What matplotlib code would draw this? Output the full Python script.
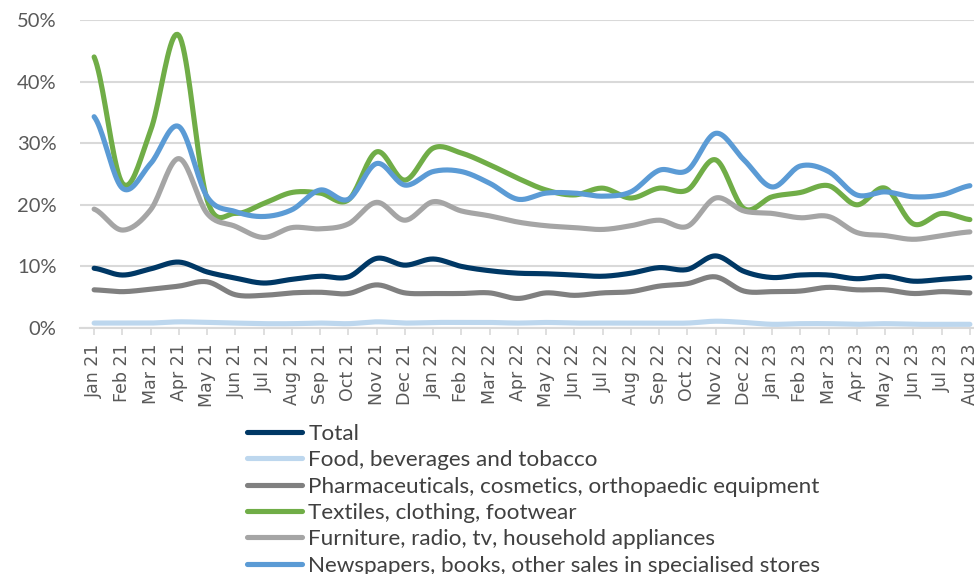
import numpy as np
import matplotlib
matplotlib.use("Agg")
import matplotlib.pyplot as plt
from matplotlib.ticker import PercentFormatter

months = ["Jan 21", "Feb 21", "Mar 21", "Apr 21", "May 21", "Jun 21", "Jul 21", "Aug 21",
          "Sep 21", "Oct 21", "Nov 21", "Dec 21", "Jan 22", "Feb 22", "Mar 22", "Apr 22",
          "May 22", "Jun 22", "Jul 22", "Aug 22", "Sep 22", "Oct 22", "Nov 22", "Dec 22",
          "Jan 23", "Feb 23", "Mar 23", "Apr 23", "May 23", "Jun 23", "Jul 23", "Aug 23"]

# valores em %
total = [9.7, 8.6, 9.6, 10.7, 9.1, 8.1, 7.3, 7.9, 8.4, 8.3, 11.3, 10.2, 11.2, 10.0, 9.3, 8.9,
         8.8, 8.6, 8.4, 8.9, 9.8, 9.5, 11.7, 9.2, 8.2, 8.6, 8.6, 8.0, 8.4, 7.6, 7.9, 8.2]
food = [0.8, 0.8, 0.8, 1.0, 0.9, 0.8, 0.7, 0.7, 0.8, 0.7, 1.0, 0.8, 0.9, 0.9, 0.9, 0.8,
        0.9, 0.8, 0.8, 0.8, 0.8, 0.8, 1.1, 0.9, 0.6, 0.7, 0.7, 0.6, 0.7, 0.6, 0.6, 0.6]
pharma = [6.2, 5.9, 6.3, 6.8, 7.5, 5.4, 5.3, 5.7, 5.8, 5.6, 7.0, 5.7, 5.6, 5.6, 5.7, 4.8,
          5.7, 5.3, 5.7, 5.9, 6.8, 7.2, 8.3, 6.0, 5.9, 6.0, 6.6, 6.2, 6.2, 5.6, 5.9, 5.7]
textiles = [44.0, 23.5, 32.1, 47.5, 20.8, 18.6, 20.2, 22.0, 21.9, 20.8, 28.6, 24.0, 29.2, 28.4,
            26.5, 24.3, 22.4, 21.6, 22.7, 21.1, 22.7, 22.4, 27.3, 19.4, 21.3, 22.0, 23.1, 20.0,
            22.7, 16.9, 18.6, 17.6]
furniture = [19.3, 15.9, 19.2, 27.5, 18.6, 16.5, 14.7, 16.3, 16.1, 16.9, 20.4, 17.5, 20.5, 19.0,
             18.2, 17.2, 16.6, 16.3, 16.0, 16.6, 17.5, 16.5, 21.1, 19.0, 18.6, 17.9, 18.1, 15.5,
             15.0, 14.4, 15.0, 15.6]
newspapers = [34.3, 22.7, 26.7, 32.7, 21.3, 18.9, 18.1, 19.2, 22.4, 20.9, 26.7, 23.2, 25.4, 25.4,
              23.5, 20.9, 21.9, 21.9, 21.4, 22.1, 25.6, 25.6, 31.6, 27.3, 22.9, 26.3, 25.4, 21.6,
              22.1, 21.3, 21.6, 23.1]

series = [
    ("Total", total, "#003865"),
    ("Food, beverages and tobacco", food, "#BDD7EE"),
    ("Pharmaceuticals, cosmetics, orthopaedic equipment", pharma, "#808080"),
    ("Textiles, clothing, footwear", textiles, "#70AD47"),
    ("Furniture, radio, tv, household appliances", furniture, "#A5A5A5"),
    ("Newspapers, books, other sales in specialised stores", newspapers, "#5B9BD5"),
]


def smooth(y, n=20):
    # curva suave tipo Excel (Catmull-Rom)
    y = np.asarray(y, dtype=float)
    p = np.concatenate([[y[0]], y, [y[-1]]])
    xs, ys = [], []
    t = np.linspace(0, 1, n, endpoint=False)
    for i in range(len(y) - 1):
        p0, p1, p2, p3 = p[i], p[i + 1], p[i + 2], p[i + 3]
        c1 = p1 + (p2 - p0) / 6
        c2 = p2 - (p3 - p1) / 6
        b = ((1 - t) ** 3 * p1 + 3 * (1 - t) ** 2 * t * c1
             + 3 * (1 - t) * t ** 2 * c2 + t ** 3 * p2)
        xs.append(i + t)
        ys.append(b)
    xs.append([len(y) - 1])
    ys.append([y[-1]])
    return np.concatenate(xs), np.concatenate(ys)


W, H = 974, 574
fig = plt.figure(figsize=(W / 100, H / 100), dpi=100)
ax = fig.add_axes([80 / W, 1 - 328 / H, 904 / W, 308 / H])

for name, vals, col in series:
    sx, sy = smooth(vals)
    ax.plot(sx, sy / 100, color=col, lw=3.7, label=name, solid_capstyle="round",
            solid_joinstyle="round", clip_on=False)

ax.set_xlim(-0.5, len(months) - 0.5)
ax.set_ylim(0, 0.5)
ax.set_yticks(np.arange(0, 0.51, 0.1))
ax.yaxis.set_major_formatter(PercentFormatter(1.0, decimals=0))
ax.set_xticks(range(len(months)))
ax.set_xticklabels(months, rotation=90, fontsize=12.5, color="#595959", family="DejaVu Sans")
for lab in ax.get_yticklabels():
    lab.set_family("Lato")
    lab.set_fontsize(14.5)
    lab.set_color("#595959")

ax.grid(axis="y", color="#D9D9D9", lw=1.5)
ax.set_axisbelow(True)
for s in ["top", "right", "left"]:
    ax.spines[s].set_visible(False)
ax.spines["bottom"].set_color("#D9D9D9")
ax.spines["bottom"].set_linewidth(1.5)
ax.tick_params(axis="y", length=0, pad=17)
ax.tick_params(axis="x", length=5, color="#D9D9D9", width=1.2, pad=6)

leg = fig.legend(loc="upper left", bbox_to_anchor=(247 / W, 1 - 424 / H), frameon=False,
                 handlelength=2.45, handletextpad=0.27, labelspacing=0.28,
                 prop={"family": "Lato", "size": 16.2}, borderaxespad=0, borderpad=0)
for t in leg.get_texts():
    t.set_color("#404040")

fig.savefig("out.png", dpi=100)
